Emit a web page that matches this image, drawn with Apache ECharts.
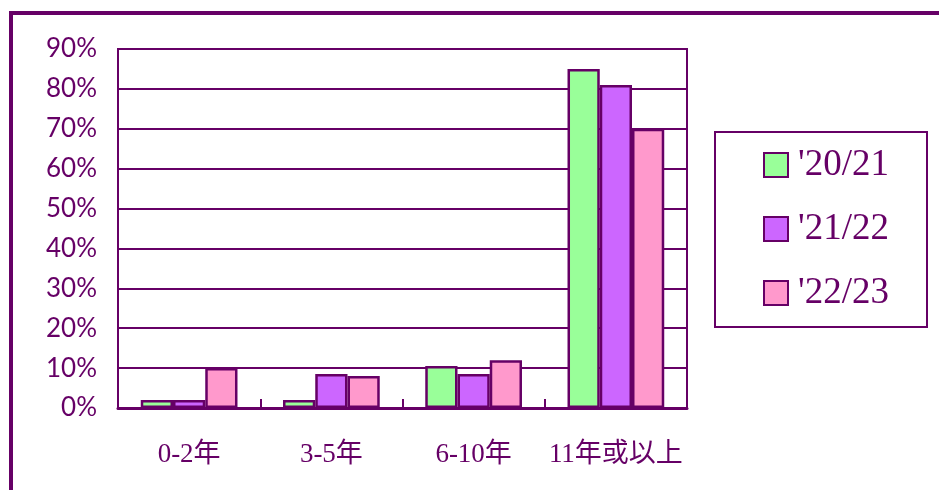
<!DOCTYPE html>
<html>
<head>
<meta charset="utf-8">
<script src="https://cdn.jsdelivr.net/npm/echarts@6/dist/echarts.min.js"></script>
<style>
html,body{margin:0;padding:0;background:#fff;}
#chart{width:939px;height:490px;}
</style>
</head>
<body>
<div id="chart"></div>
<script>
const categories = ['0-2年', '3-5年', '6-10年', '11年或以上'];
const seriesNames = ["'20/21", "'21/22", "'22/23"];
const values2021 = [2, 2, 10.5, 85];
const values2122 = [2, 8.5, 8.5, 81];
const values2223 = [10, 8, 12, 70];
const yTicks = [0, 10, 20, 30, 40, 50, 60, 70, 80, 90];

const DARK = '#660066';
const colors = ['#99FF99', '#CC66FF', '#FF99CC'];
const seriesValues = [values2021, values2122, values2223];

const chart = echarts.init(document.getElementById('chart'), null, {renderer: 'canvas'});
chart.setOption({
  animation: false,
  backgroundColor: '#ffffff',
  graphic: [
    {type: 'rect', shape: {x: 11, y: 13, width: 1000, height: 1000},
     style: {fill: 'none', stroke: DARK, lineWidth: 4}, silent: true, z: -1},
    {type: 'rect', shape: {x: 715, y: 132, width: 212, height: 195},
     style: {fill: '#fff', stroke: DARK, lineWidth: 2}, silent: true, z: -1}
  ],
  grid: {left: 118, top: 49, right: 252, bottom: 82, show: true,
         borderColor: DARK, borderWidth: 2, backgroundColor: 'transparent'},
  legend: {
    orient: 'vertical', left: 763, top: 145, padding: 0,
    itemGap: 24, itemWidth: 24, itemHeight: 24, icon: 'rect',
    data: seriesNames,
    textStyle: {fontFamily: 'Liberation Serif', fontSize: 37, color: DARK, lineHeight: 40, padding: [0,0,0,5]}
  },
  xAxis: {
    type: 'category', data: categories,
    axisLine: {lineStyle: {color: DARK, width: 3}},
    axisTick: {show: true, interval: 0, alignWithLabel: false, inside: true, length: 9, lineStyle: {color: DARK, width: 2}},
    axisLabel: {interval: 0, margin: 33, fontFamily: 'Liberation Serif, Noto Sans CJK TC', fontSize: 27, color: DARK}
  },
  yAxis: {
    type: 'value', min: yTicks[0], max: yTicks[yTicks.length - 1], interval: 10,
    axisLine: {show: true, lineStyle: {color: DARK, width: 2}},
    axisTick: {show: false},
    splitLine: {lineStyle: {color: DARK, width: 2}},
    axisLabel: {margin: 21, formatter: '{value}%', fontFamily: 'Lato', fontSize: 26, color: DARK}
  },
  series: seriesNames.map((n, i) => ({
    name: n, type: 'bar', data: seriesValues[i],
    barCategoryGap: '32%', barGap: '0%',
    itemStyle: {color: colors[i], borderColor: DARK, borderWidth: 2.5}
  }))
});
</script>
</body>
</html>
